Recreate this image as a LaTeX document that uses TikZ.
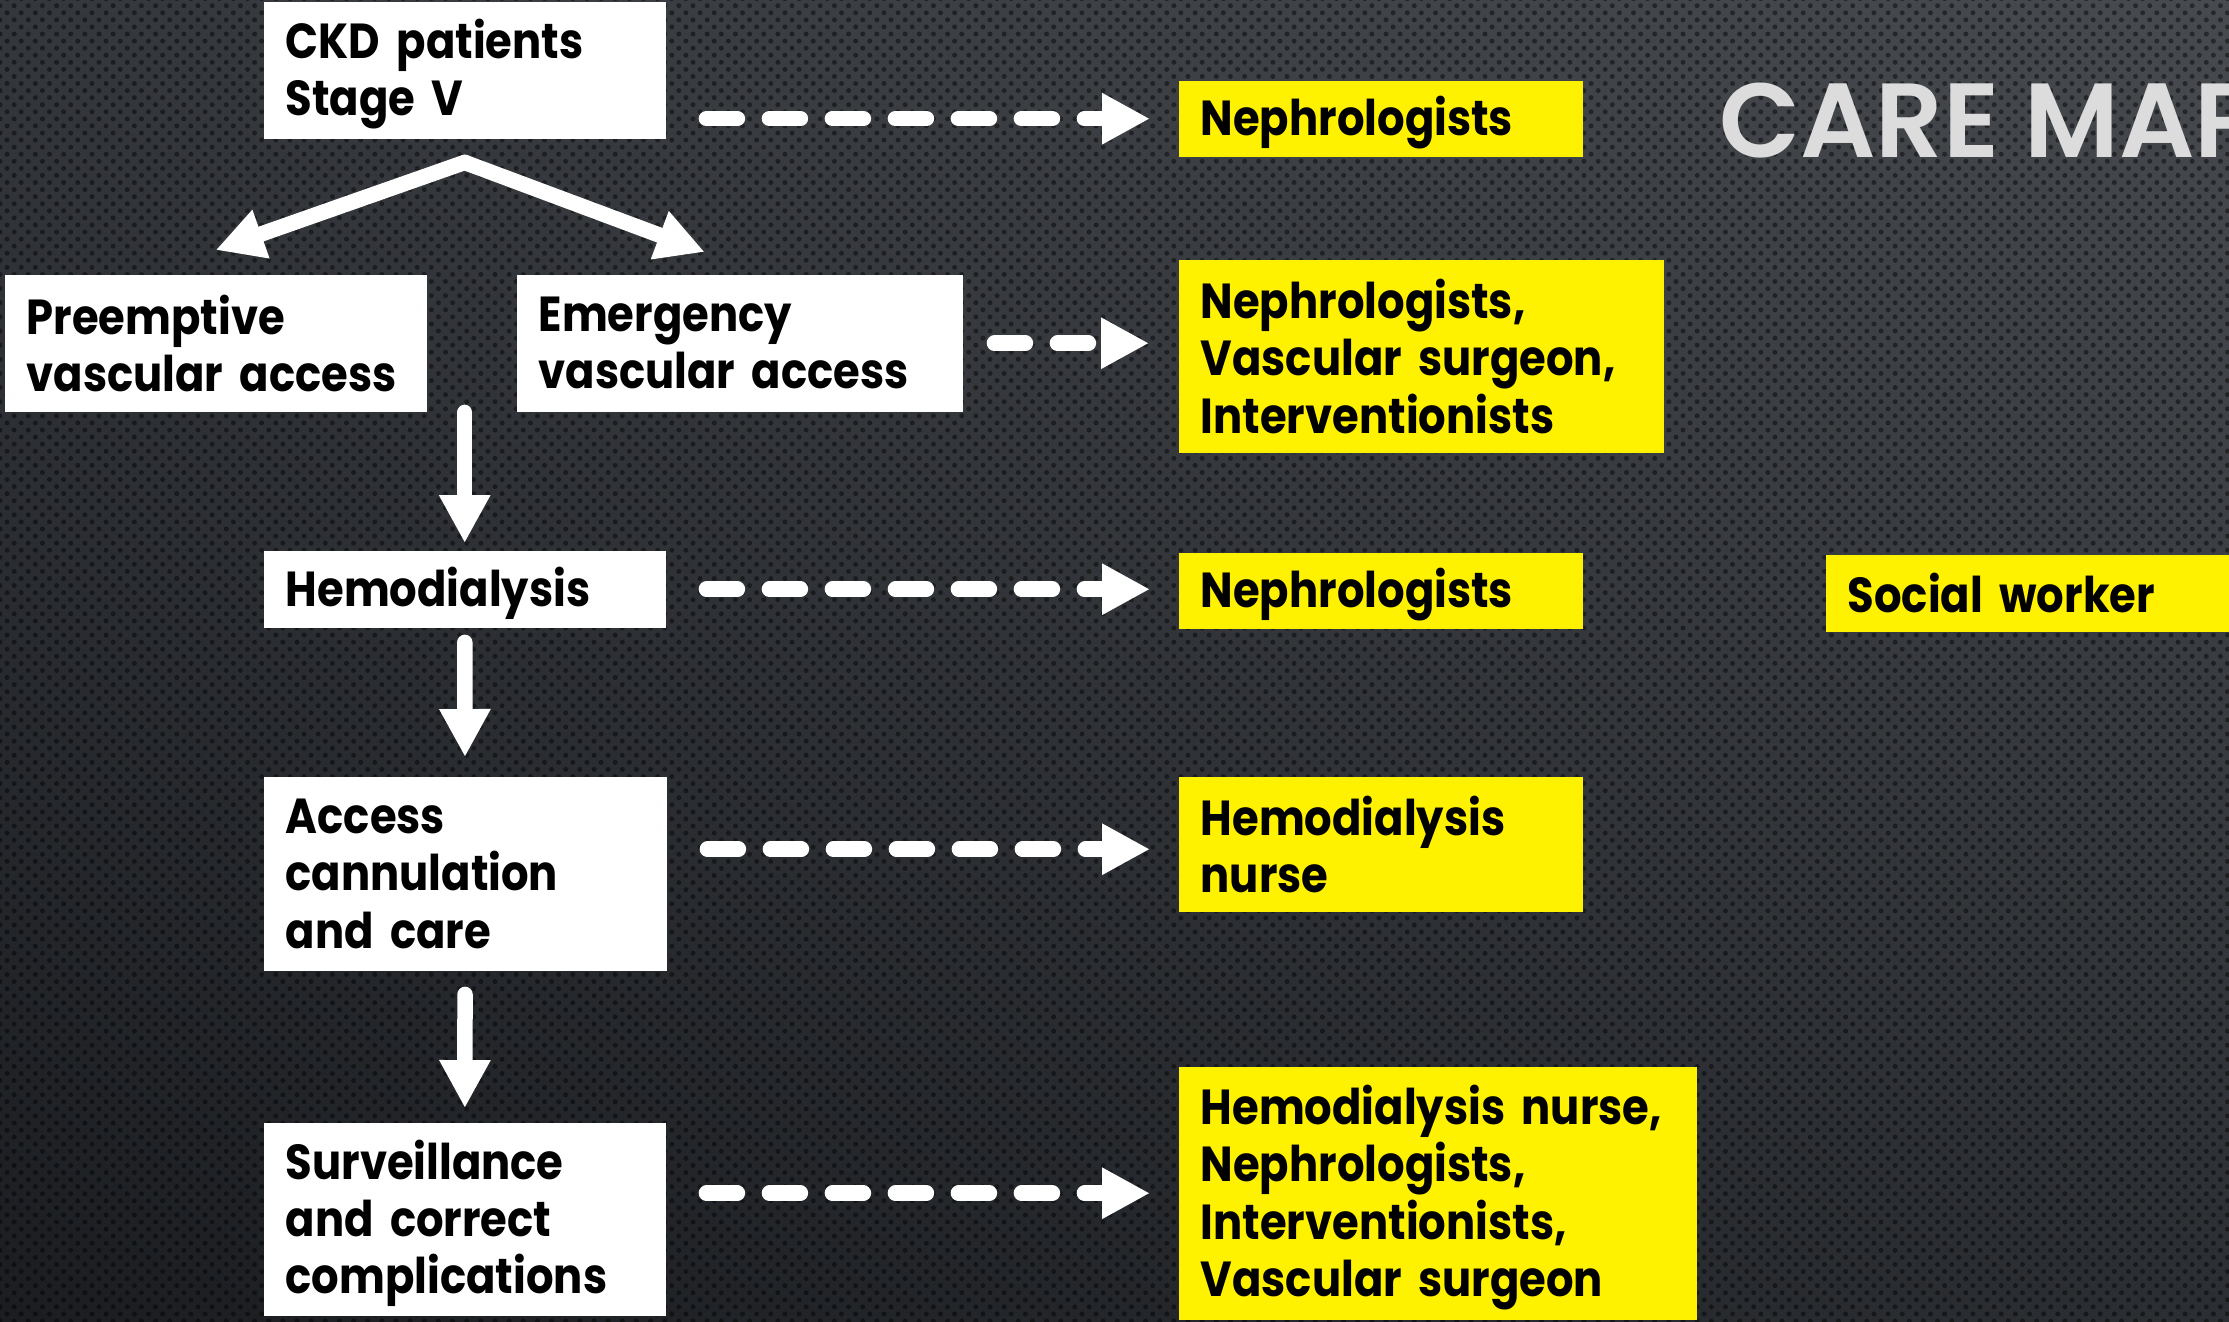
\documentclass[tikz,border=0pt]{standalone}
\usepackage{fontspec}
\setmainfont{Poppins}[FakeStretch=0.88]
\newfontfamily\titlefont{Poppins}[UprightFont=* SemiBold]
\usetikzlibrary{arrows.meta,patterns.meta,shadings}
\definecolor{bgll}{HTML}{1B1D21}
\definecolor{bgul}{HTML}{34373C}
\definecolor{bglr}{HTML}{2B2E32}
\definecolor{bgur}{HTML}{474A4F}
\definecolor{titlegray}{HTML}{DCDCDC}
\begin{document}
\begin{tikzpicture}[x=1cm, y=-1cm,
	box/.style={fill=white, text=black, anchor=north west, align=left, inner xsep=0.22cm, inner ysep=0pt, font=\bfseries\fontsize{14}{16.3}\selectfont},
	role/.style={box, fill=yellow},
	lowtext/.style={execute at begin node={\rule{0pt}{13.6pt}}},
	flow/.style={-{Triangle[length=0.48cm,width=0.48cm]}, line width=0.155cm, white, line cap=round},
	link/.style={flow, dash pattern=on 0.31cm off 0.32cm}]

	\useasboundingbox (0,0) rectangle (22.29,13.21);
	\clip (0,0) rectangle (22.29,13.21);
	\shade [upper left=bgul, upper right=bgur, lower left=bgll, lower right=bglr] (0,0) rectangle (22.29,13.21);
	\fill [pattern={Dots[radius=0.025cm, distance=0.1cm, angle=45]}, pattern color=black, fill opacity=0.45] (0,0) rectangle (22.29,13.21);

	\node [anchor=base west, text=titlegray, font=\titlefont\fontsize{30}{36}\selectfont] (T) at (17.07,1.57) {CARE MAP};

	\node [box, lowtext, text width=3.58cm, minimum height=1.37cm] (CKD) at (2.63,0.01) {CKD patients\\Stage V};
	\node [box, text width=3.78cm, minimum height=1.37cm] (PVA) at (0.04,2.74) {Preemptive\\vascular access};
	\node [box, text width=4.02cm, minimum height=1.37cm] (EVA) at (5.16,2.74) {Emergency\\vascular access};
	\node [box, lowtext, text width=3.58cm, minimum height=0.77cm] (HD) at (2.63,5.50) {Hemodialysis};
	\node [box, text width=3.59cm, minimum height=1.94cm] (ACC) at (2.63,7.76) {Access\\cannulation\\and care};
	\node [box, lowtext, text width=3.58cm, minimum height=1.93cm] (SUR) at (2.63,11.22) {Surveillance\\and correct\\complications};

	\node [role, lowtext, text width=3.60cm, minimum height=0.76cm] (N1) at (11.78,0.80) {Nephrologists};
	\node [role, text width=4.41cm, minimum height=1.93cm] (N2) at (11.78,2.59) {Nephrologists,\\Vascular surgeon,\\Interventionists};
	\node [role, lowtext, text width=3.60cm, minimum height=0.76cm] (N3) at (11.78,5.52) {Nephrologists};
	\node [role, text width=3.60cm, minimum height=1.35cm] (HN) at (11.78,7.76) {Hemodialysis\\nurse};
	\node [role, lowtext, text width=4.74cm, minimum height=2.53cm] (ALL) at (11.78,10.66) {Hemodialysis nurse,\\Nephrologists,\\Interventionists,\\Vascular surgeon};
	\node [role, text width=3.66cm, minimum height=0.77cm] (SW) at (18.25,5.54) {Social worker};

	\coordinate (S) at ([yshift=-0.23cm]CKD.south);
	\coordinate (J) at (HD.north |- EVA.south);
	\draw [flow] (S) -- ([yshift=0.24cm]PVA.north);
	\draw [flow] (S) -- ([xshift=-0.35cm,yshift=0.22cm]EVA.north);
	\draw [flow, shorten >=0.07cm] (J) -- (HD);
	\draw [flow, shorten <=0.14cm, shorten >=0.19cm] (HD) -- (ACC);
	\draw [flow, shorten <=0.23cm, shorten >=0.14cm] (ACC) -- (SUR);

	\draw [link, shorten <=0.40cm, shorten >=0.28cm] (CKD.east |- N1) -- (N1);
	\draw [link, shorten <=0.31cm, shorten >=0.29cm] (EVA) -- (EVA -| N2.west);
	\draw [link, shorten <=0.40cm, shorten >=0.28cm] (HD) -- (HD -| N3.west);
	\draw [link, transform canvas={yshift=-0.05cm}, shorten <=0.40cm, shorten >=0.28cm] (ACC.east |- HN) -- (HN);
	\draw [link, shorten <=0.40cm, shorten >=0.28cm] (SUR.east |- ALL) -- (ALL);

\end{tikzpicture}
\end{document}
